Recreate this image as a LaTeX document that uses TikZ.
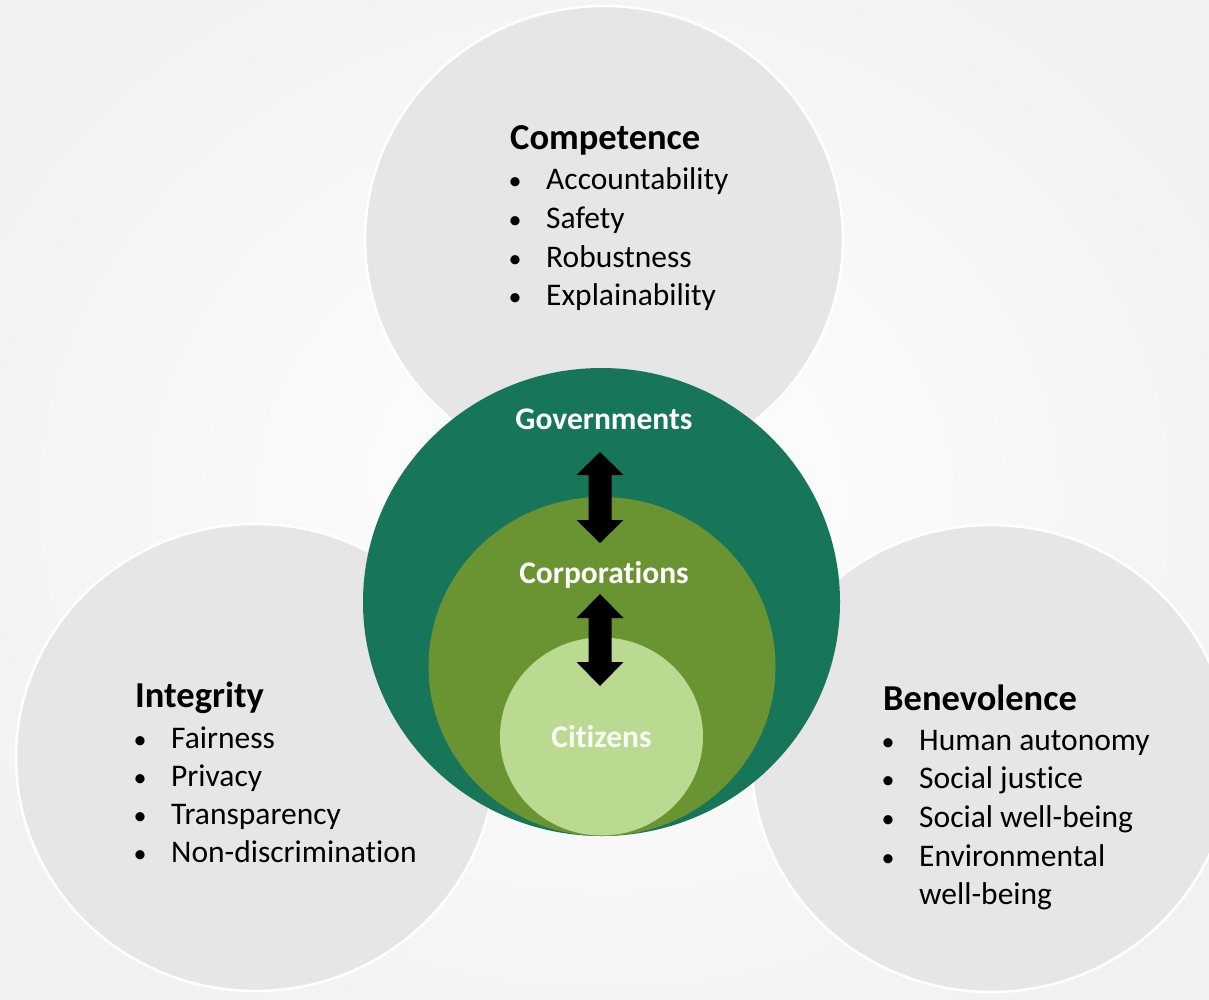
\documentclass[tikz,border=0pt]{standalone}
\usepackage{fontspec}
\setmainfont{Carlito}[Ligatures=NoCommon]
\usetikzlibrary{shapes.geometric}
\definecolor{bgedge}{HTML}{F1F1F1}
\definecolor{disc}{HTML}{E6E6E6}
\definecolor{govc}{HTML}{17765A}
\definecolor{corpc}{HTML}{6A9432}
\definecolor{citc}{HTML}{BADA91}
\tikzset{
  graydisc/.style={ellipse, fill=disc, draw=white, line width=2.5pt, inner sep=0pt, minimum width=478pt, minimum height=467pt},
  ring/.style={ellipse, inner sep=0pt},
  title/.style={anchor=base west, inner sep=0pt, font=\fontsize{36.5}{40}\selectfont\bfseries},
  item/.style={anchor=base west, inner sep=0pt, font=\fontsize{31.5}{38}\selectfont},
  dot/.style={anchor=base, inner sep=0pt, font=\fontsize{26}{38}\selectfont},
  grp/.style={anchor=base, inner sep=0pt, text=white, font=\fontsize{31.5}{38}\selectfont\bfseries},
}
\begin{document}
\begin{tikzpicture}[x=1pt,y=-1pt]
\useasboundingbox (0,0) rectangle (1209,1000);
\shade[inner color=white, outer color=bgedge] (-150,-150) rectangle (1359,1150);
% gray circles
\node[graydisc] (compc) at (604,239.5) {};
\node[graydisc, minimum width=479pt] (intc) at (255.5,757.5) {};
\node[graydisc, minimum width=479pt] (benc) at (991,758.5) {};
% nested green circles
\node[ring, fill=govc, minimum width=477pt, minimum height=468pt] (gov) at (601.5,602) {};
\node[ring, fill=corpc, minimum width=347pt, minimum height=339pt] (corp) at (602,666.5) {};
\node[ring, fill=citc, minimum width=203pt, minimum height=198pt] (cit) at (601.5,736.5) {};
% group labels
\node[grp] (govl) at (604,429) {Governments};
\node[grp] (corpl) at (604,583) {Corporations};
\node[grp, text=white!92!citc] (citl) at (601.5,747) {Citizens};
% arrows
\coordinate (a1t) at (600,452);
\coordinate (a1b) at (600,543);
\coordinate (a2t) at (600,594);
\coordinate (a2b) at (600,686);
\fill[black] (a1t) -- ([xshift=23.5pt,yshift=-23pt]a1t) -- ([xshift=11.5pt,yshift=-23pt]a1t)
  -- ([xshift=11.5pt,yshift=23pt]a1b) -- ([xshift=23.5pt,yshift=23pt]a1b) -- (a1b)
  -- ([xshift=-23.5pt,yshift=23pt]a1b) -- ([xshift=-11.5pt,yshift=23pt]a1b)
  -- ([xshift=-11.5pt,yshift=-23pt]a1t) -- ([xshift=-23.5pt,yshift=-23pt]a1t) -- cycle;
\fill[black] (a2t) -- ([xshift=23.5pt,yshift=-24pt]a2t) -- ([xshift=11.5pt,yshift=-24pt]a2t)
  -- ([xshift=11.5pt,yshift=24pt]a2b) -- ([xshift=23.5pt,yshift=24pt]a2b) -- (a2b)
  -- ([xshift=-23.5pt,yshift=24pt]a2b) -- ([xshift=-11.5pt,yshift=24pt]a2b)
  -- ([xshift=-11.5pt,yshift=-24pt]a2t) -- ([xshift=-23.5pt,yshift=-24pt]a2t) -- cycle;
% Competence
\node[title] (compt) at (510,150) {Competence};
\node[dot] (cd1) at (515,190) {•}; \node[item] (ci1) at (546,190) {Accountability};
\node[dot] (cd2) at (515,229) {•}; \node[item] (ci2) at (546,229) {Safety};
\node[dot] (cd3) at (515,267) {•}; \node[item] (ci3) at (546,267) {Robustness};
\node[dot] (cd4) at (515,305) {•}; \node[item] (ci4) at (546,305) {Explainability};
% Integrity
\node[title] (intt) at (135,707) {Integrity};
\node[dot] (id1) at (140,748) {•}; \node[item] (ii1) at (171,748) {Fairness};
\node[dot] (id2) at (140,786) {•}; \node[item] (ii2) at (171,786) {Privacy};
\node[dot] (id3) at (140,824) {•}; \node[item] (ii3) at (171,824) {Transparency};
\node[dot] (id4) at (140,862) {•}; \node[item] (ii4) at (171,862) {Non-discrimination};
% Benevolence
\node[title] (bent) at (883,710) {Benevolence};
\node[dot] (bd1) at (888,750) {•}; \node[item] (bi1) at (919,750) {Human autonomy};
\node[dot] (bd2) at (888,788) {•}; \node[item] (bi2) at (919,788) {Social justice};
\node[dot] (bd3) at (888,827) {•}; \node[item] (bi3) at (919,827) {Social well-being};
\node[dot] (bd4) at (888,866) {•}; \node[item] (bi4) at (919,866) {Environmental};
\node[item] (bi5) at (919,904) {well-being};
\end{tikzpicture}
\end{document}
